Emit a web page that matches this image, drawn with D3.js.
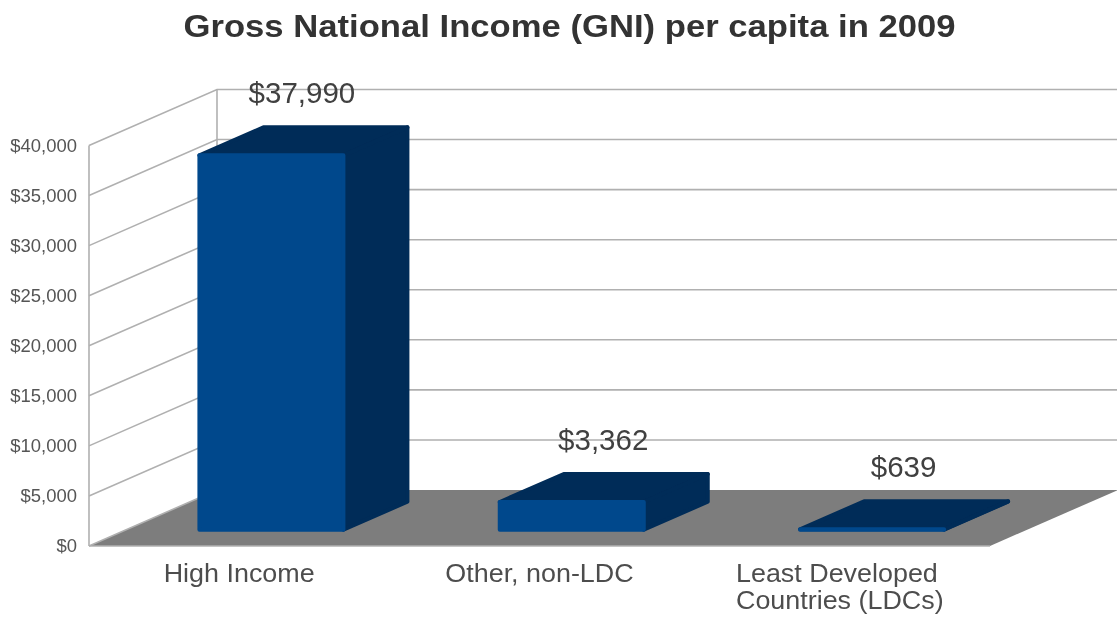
<!DOCTYPE html>
<html>
<head>
<meta charset="utf-8">
<script src="https://cdn.jsdelivr.net/npm/d3@7"></script>
<style>
  html, body { margin: 0; padding: 0; background: #fff; overflow: hidden; }
  svg { display: block; font-family: "Liberation Sans", Arial, sans-serif; filter: blur(0.45px); }
</style>
</head>
<body>
<div id="chart"></div>
<script>
var title = "Gross National Income (GNI) per capita in 2009";
var categories = ["High Income", "Other, non-LDC", "Least Developed|Countries (LDCs)"];
var values = [37990, 3362, 639];
var valueLabels = ["$37,990", "$3,362", "$639"];
var tickValues = [0, 5000, 10000, 15000, 20000, 25000, 30000, 35000, 40000];

var width = 1117, height = 617;

var svg = d3.select("#chart").append("svg")
  .attr("width", width)
  .attr("height", height);

// front plane scales
var x = d3.scaleBand().domain(categories).range([89, 990]);
var y = d3.scaleLinear().domain([0, 40000]).range([546, 145.5]);
// depth goes from front (0) to back wall (1)
var depthX = d3.scaleLinear().domain([0, 1]).range([0, 128]);
var depthY = d3.scaleLinear().domain([0, 1]).range([0, -56]);

function pt(px, v, d, inset) {
  return [px + depthX(d), y(v) + depthY(d) + (inset || 0)];
}
function poly(points) {
  return "M" + points.map(function(p) { return p.join(","); }).join("L") + "Z";
}

var gridColor = "#b0b0b0";
var x0 = x.range()[0], x1 = x.range()[1];

// floor
svg.append("path")
  .attr("d", poly([pt(x0, 0, 0), pt(x1, 0, 0), pt(x1, 0, 1), pt(x0, 0, 1)]))
  .attr("fill", "#7d7d7d");

// walls
var grid = svg.append("g").attr("fill", "none").attr("stroke", gridColor).attr("stroke-width", 1.6);
tickValues.forEach(function(t) {
  var a = pt(x0, t, 0), b = pt(x0, t, 1), c = pt(x1, t, 1);
  grid.append("path").attr("d", "M" + a + "L" + b + (t > 0 ? "L" + c : ""));
});
grid.append("path").attr("d", "M" + pt(x0, 0, 0) + "L" + pt(x0, 40000, 0));
grid.append("path").attr("d", "M" + pt(x0, 5000, 1) + "L" + pt(x0, 40000, 1));
grid.append("path").attr("d", "M" + pt(x0, 0, 0) + "L" + pt(x1, 0, 0));

// y axis labels, the source image is a little stretched sideways so the text is too
var yAxis = d3.axisLeft(y)
  .tickValues(tickValues)
  .tickSize(0)
  .tickPadding(0)
  .tickFormat(function(d) { return "$" + d3.format(",")(d); });
var axisG = svg.append("g").attr("transform", "translate(" + x0 + ",0)").call(yAxis);
axisG.select(".domain").remove();
axisG.selectAll("text")
  .attr("x", 0)
  .attr("transform", "translate(-12,0) scale(1.025,1)")
  .attr("font-family", "Liberation Sans")
  .attr("font-size", 18)
  .attr("fill", "#555");

// bars, the thick round stroke gives the soft corners
var front = "#00488c", dark = "#002c58";
var barW = 144, barShift = -77, strokeW = 4, topInset = 6;
var d0 = 0.291, d1 = 0.791;

var bars = svg.selectAll(".bar").data(values).enter().append("g")
  .attr("class", "bar")
  .attr("stroke-linejoin", "round")
  .attr("stroke-width", strokeW);

bars.each(function(v, i) {
  var g = d3.select(this);
  var left = x(categories[i]) + x.bandwidth() / 2 + barShift;
  var right = left + barW;
  // top
  g.append("path")
    .attr("d", poly([pt(left, v, d0, topInset), pt(right, v, d0, topInset), pt(right, v, d1, topInset), pt(left, v, d1, topInset)]))
    .attr("fill", dark).attr("stroke", dark);
  // side
  g.append("path")
    .attr("d", poly([pt(right, 0, d0), pt(right, 0, d1), pt(right, v, d1, topInset), pt(right, v, d0, topInset)]))
    .attr("fill", dark).attr("stroke", dark);
  // front
  g.append("path")
    .attr("d", poly([pt(left, 0, d0), pt(right, 0, d0), pt(right, v, d0, topInset), pt(left, v, d0, topInset)]))
    .attr("fill", front).attr("stroke", front);
});

// value labels
svg.selectAll(".val").data(values).enter().append("text")
  .attr("class", "val")
  .attr("x", function(v, i) { return x(categories[i]) + x.bandwidth() / 2 + depthX(0.49) + (i > 0 ? 1 : 0); })
  .attr("y", function(v) { return pt(0, v, d1)[1] - 18; })
  .attr("text-anchor", "middle")
  .attr("font-size", 29.5)
  .attr("fill", "#404040")
  .text(function(v, i) { return valueLabels[i]; });

// category labels, multi-line ones are left aligned
svg.selectAll(".cat").data(categories).enter().append("text")
  .attr("class", "cat")
  .attr("font-size", 26)
  .attr("fill", "#4d4d4d")
  .attr("transform", function(c) { return "translate(" + (x(c) + x.bandwidth() / 2) + ",0) scale(1.035,1)"; })
  .each(function(c) {
    var t = d3.select(this);
    c.split("|").forEach(function(line, j) {
      t.append("tspan").attr("y", 582 + j * 27).text(line);
    });
    var w = d3.max(t.selectAll("tspan").nodes(), function(n) { return n.getComputedTextLength(); });
    t.selectAll("tspan").attr("x", -w / 2);
  });

// title
svg.append("text")
  .attr("transform", "translate(569.5,37) scale(1.083,1)")
  .attr("text-anchor", "middle")
  .attr("font-size", 32)
  .attr("font-weight", "bold")
  .attr("fill", "#333")
  .text(title);
</script>
</body>
</html>
